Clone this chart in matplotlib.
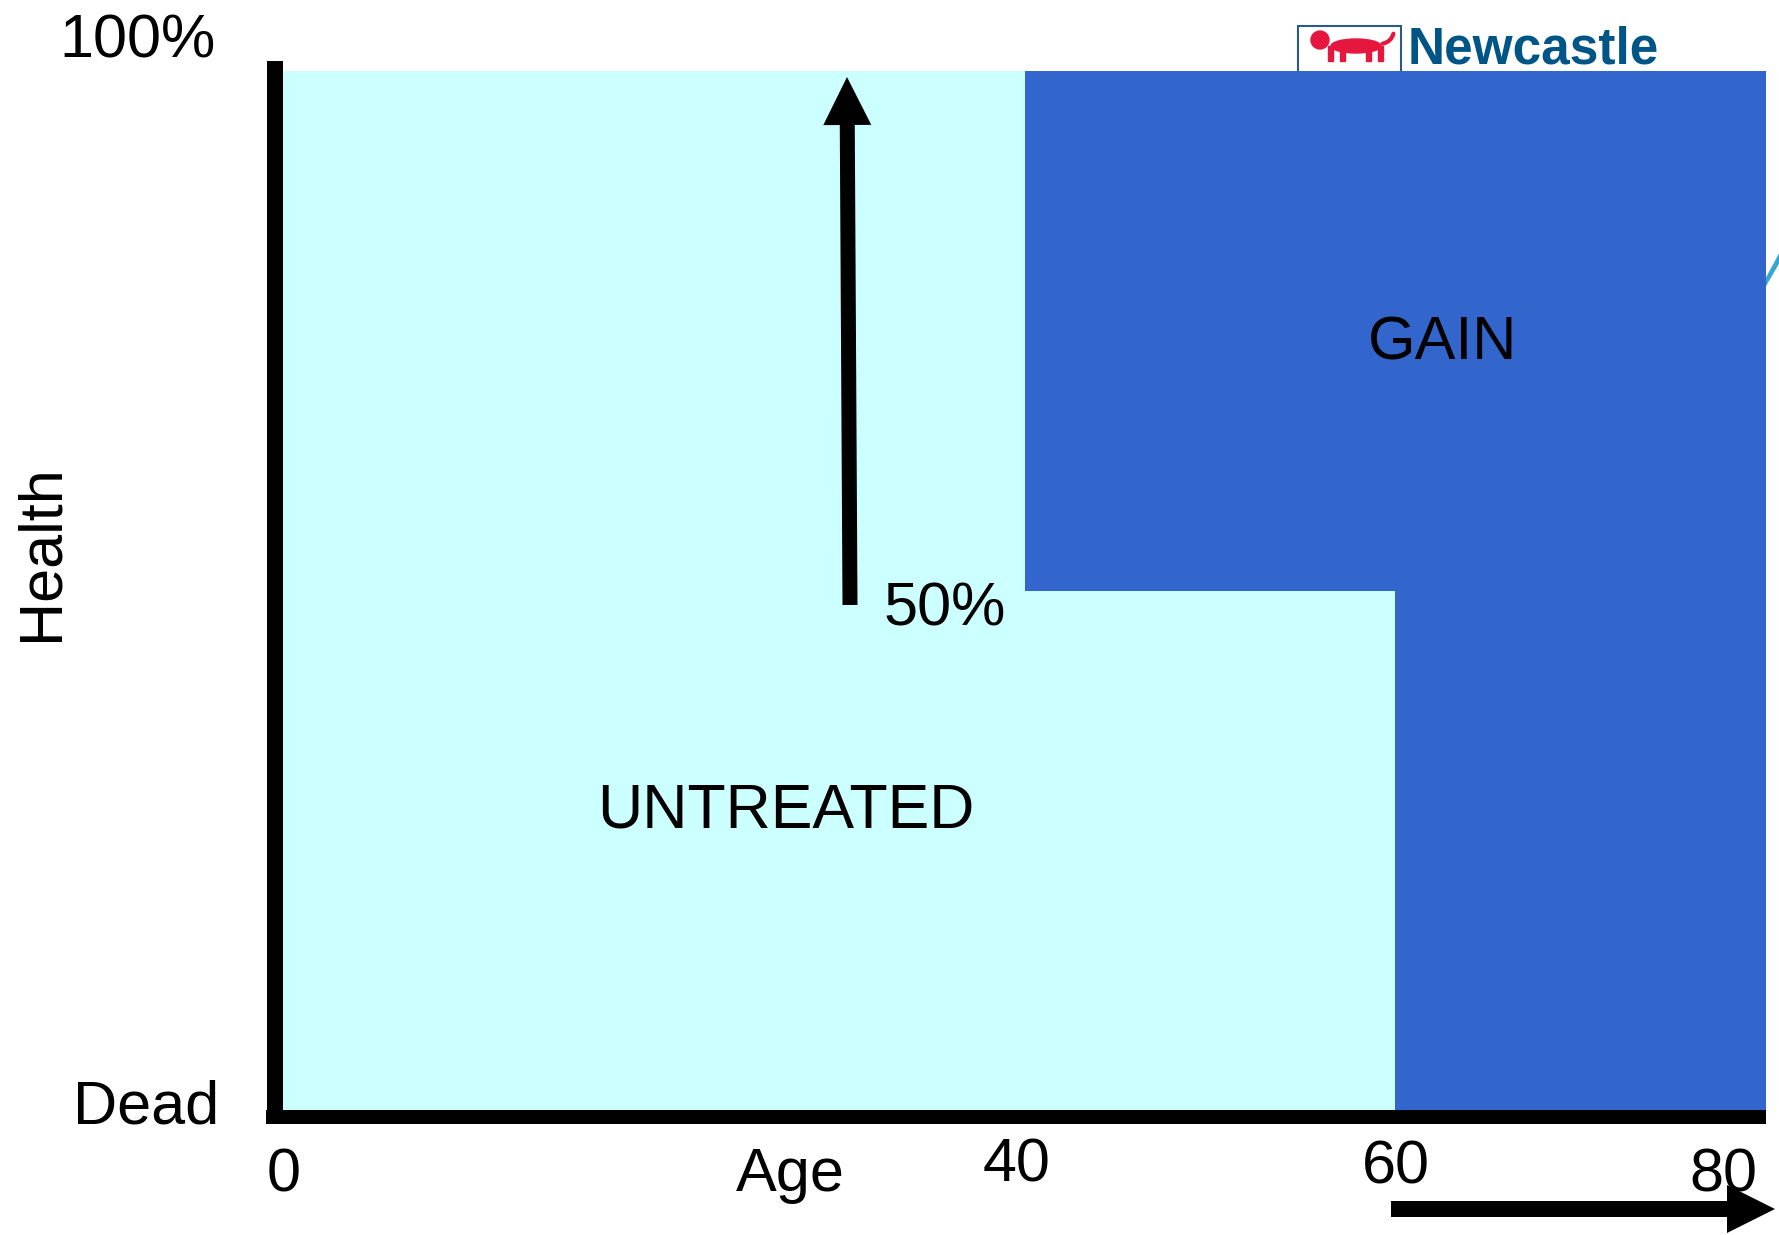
import matplotlib
matplotlib.use("Agg")
import matplotlib.pyplot as plt
import matplotlib.patches as mpatches
import matplotlib.transforms as mtransforms

W, H = 1779, 1235

# step data: health (%) by age
ages = [0, 40, 60, 80]
untreated = [100, 50, 0, 0]
treated = [100, 100, 100, 100]
tick_labels = ["0", "40", "60", "80"]

plt.rcParams['font.family'] = ['Liberation Sans', 'DejaVu Sans']

fig = plt.figure(figsize=(W / 100, H / 100), dpi=100)
# pixel coords, origin top-left (like the slide)
px = mtransforms.Affine2D().scale(1 / W, -1 / H).translate(0, 1) + fig.transFigure

ax = fig.add_axes([283 / W, 1 - 1110 / H, (1766 - 283) / W, (1110 - 71) / H])
ax.set_facecolor('none')
ax.fill_between(ages, 0, untreated, step='post', color='#CCFFFF', lw=0)
ax.fill_between(ages, untreated, treated, step='post', color='#3366CC', lw=0)
ax.set_xlim(0, 80)
ax.set_ylim(0, 100)
ax.set_xticks([])
ax.set_yticks([])
for s in ['top', 'right']:
    ax.spines[s].set_visible(False)
ax.spines['left'].set_linewidth(16 * 0.72)
ax.spines['left'].set_position(('outward', 8 * 0.72))
ax.spines['left'].set_bounds(-1.3, 101)
ax.spines['left'].set_capstyle('butt')
ax.spines['bottom'].set_linewidth(14 * 0.72)
ax.spines['bottom'].set_position(('outward', 7 * 0.72))
ax.spines['bottom'].set_bounds(-0.9, 80)
ax.spines['bottom'].set_capstyle('butt')

# text labels (slide layout, pixel positions)
fs = 44
tick_pos = [(284, 1191), (1017, 1182), (1396, 1184), (1723, 1191)]
for lab, (x, y) in zip(tick_labels, tick_pos):
    fig.text(x, y, lab, transform=px, ha='center', va='baseline', fontsize=fs)
fig.text(790, 1191, "Age", transform=px, ha='center', va='baseline', fontsize=fs)
fig.text(137, 57, "100%", transform=px, ha='center', va='baseline', fontsize=fs)
fig.text(146, 1123, "Dead", transform=px, ha='center', va='baseline', fontsize=fs)
fig.text(42, 553, "Health", transform=px, ha='center', va='center', rotation=90, fontsize=fs)
fig.text(945, 625, "50%", transform=px, ha='center', va='baseline', fontsize=fs)
fig.text(786, 828, "UNTREATED", transform=px, ha='center', va='baseline', fontsize=45)
fig.text(1443, 360, "GAIN", transform=px, ha='center', va='baseline', fontsize=fs)

# arrows
fig.add_artist(mpatches.FancyArrow(850, 605, -3, -528, width=15, head_width=48, head_length=48,
                                   length_includes_head=True, color='k', lw=0, transform=px))
fig.add_artist(mpatches.FancyArrow(1391, 1209, 384, 0, width=16, head_width=48, head_length=48,
                                   length_includes_head=True, color='k', lw=0, transform=px))

# logo (partly hidden behind the chart, like on the slide)
red = '#E5173F'
logo = [
    mpatches.Rectangle((1298, 26), 103, 60, facecolor='white', edgecolor='#2B5A85', lw=1.5),
    mpatches.Ellipse((1356, 46), 50, 14, color=red),
    mpatches.Circle((1320, 40), 9, color=red),
    mpatches.Rectangle((1328, 46), 5, 15, color=red),
    mpatches.Rectangle((1340, 48), 5, 13, color=red),
    mpatches.Rectangle((1366, 48), 5, 13, color=red),
    mpatches.Rectangle((1378, 46), 5, 15, color=red),
]
for p in logo:
    p.set_transform(px)
    p.set_zorder(-1)
    fig.add_artist(p)
tail = mpatches.FancyArrowPatch((1380, 44), (1394, 31), connectionstyle='arc3,rad=0.4',
                                arrowstyle='-', color=red, lw=3, transform=px, zorder=-1)
fig.add_artist(tail)
fig.text(1408, 63, "Newcastle", transform=px, ha='left', va='baseline', fontsize=37,
         fontweight='bold', color='#005587', zorder=-1)
fig.text(1750, 286, "y", transform=px, ha='left', va='baseline', fontsize=44,
         style='italic', color='#35A8D0', zorder=-1)

fig.savefig("out.png", dpi=100, facecolor='white')
